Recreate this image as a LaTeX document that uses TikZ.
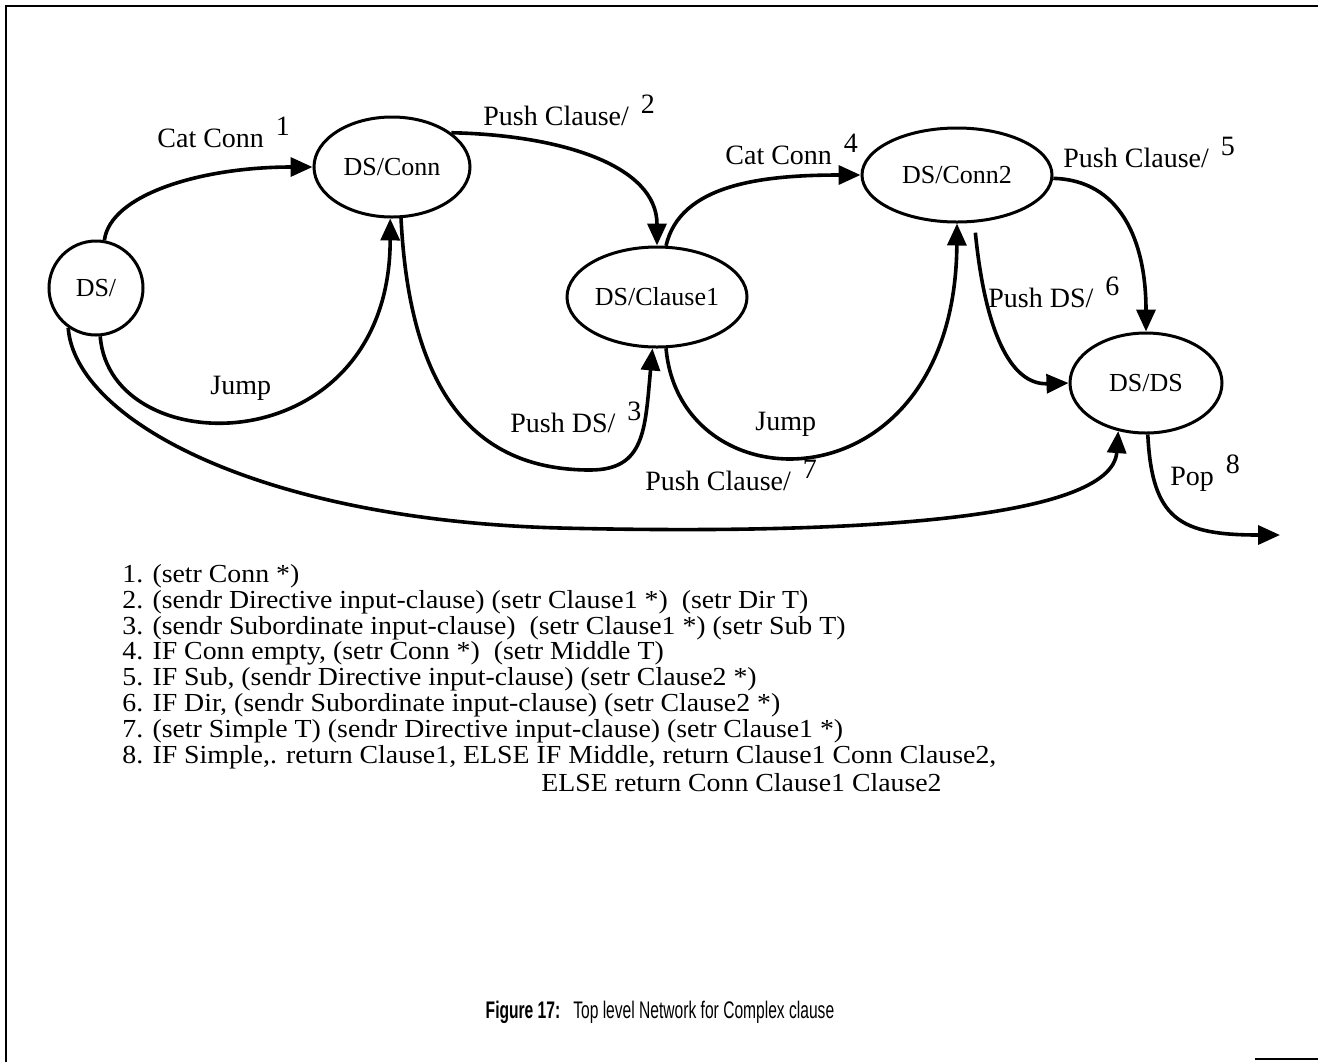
\documentclass[tikz,border=0pt]{standalone}
\usepackage{fontspec}
\setmainfont{Liberation Serif}
\newfontfamily\notefont[FakeStretch=1.07]{Liberation Serif}
\newfontfamily\capfont[FakeStretch=0.65]{Liberation Sans}
\usetikzlibrary{shapes.geometric,arrows.meta}

\newcommand{\arcnum}[1]{\hspace{6pt}\raisebox{6pt}{#1}}

\begin{document}
\begin{tikzpicture}[x=0.5pt,y=-0.5pt,
    netstate/.style={draw, line width=1.5pt, ellipse, inner sep=0pt, font=\fontsize{13}{15}\selectfont},
    trans/.style={line width=1.8pt, -{Triangle[length=11pt,width=9.5pt]}},
    translbl/.style={anchor=base west, inner sep=0pt, font=\fontsize{14}{16}\selectfont},
    notelbl/.style={anchor=west, inner sep=0pt, font=\notefont\fontsize{13}{15}\selectfont}]

    \useasboundingbox (0,0) rectangle (1318,1062);

    % frame
    \draw[line width=1pt] (6,1062) -- (6,6) -- (1318,6);
    \draw[line width=1.2pt] (1255,1059) -- (1318,1059);

    % states
    \node[netstate, circle, minimum size=47pt] (ds) at (96,288) {DS/};
    \node[netstate, minimum width=78pt, minimum height=50pt] (dsconn) at (392,167) {DS/Conn};
    \node[netstate, minimum width=90pt, minimum height=50pt] (dsclause) at (657,297) {DS/Clause1};
    \node[netstate, minimum width=95pt, minimum height=47pt] (dsconn2) at (957,175) {DS/Conn2};
    \node[netstate, minimum width=76pt, minimum height=50pt] (dsds) at (1146,383) {DS/DS};
    \coordinate (popend) at (1280,535);

    % arcs
    \draw[trans] (ds.80) .. controls (110,195) and (200,167) .. (dsconn.west);
    \draw[trans] (dsconn.30) .. controls (560,135) and (657,165) .. (dsclause.north);
    \draw[trans] (dsconn.-80) .. controls (410,400) and (480,470) .. (590,470)
        .. controls (645,470) and (645,430) .. (dsclause.-95);
    \draw[trans] (dsclause.80) .. controls (680,185) and (760,175) .. (dsconn2.west);
    \draw[trans] (dsconn2.-2) .. controls (1120,180) and (1146,240) .. (dsds.north);
    \draw[trans, shorten <=5pt] (dsconn2.-70) .. controls (985,330) and (1010,385) .. (dsds.west);
    \draw[trans] (ds.235) .. controls (75,420) and (260,520) .. (560,528)
        .. controls (850,535) and (1112,520) .. (dsds.-120);
    \draw[trans] (ds.-85) .. controls (110,465) and (390,465) .. (dsconn.-92);
    \draw[trans] (dsclause.-80) .. controls (680,510) and (955,510) .. (dsconn2.-90);
    \draw[trans] (dsds.-88) .. controls (1152,520) and (1180,535) .. (popend);

    % arc labels
    \node[translbl] (lcat1) at (157,147) {Cat Conn\arcnum{1}};
    \node[translbl] (lpush2) at (483,125) {Push Clause/\arcnum{2}};
    \node[translbl] (lpush3) at (510,432) {Push DS/\arcnum{3}};
    \node[translbl] (lcat4) at (725,164) {Cat Conn\arcnum{4}};
    \node[translbl] (lpush5) at (1063,167) {Push Clause/\arcnum{5}};
    \node[translbl] (lpush6) at (988,307) {Push DS/\arcnum{6}};
    \node[translbl] (lpush7) at (645,490) {Push Clause/\arcnum{7}};
    \node[translbl] (ljump1) at (210,394) {Jump};
    \node[translbl] (ljump2) at (755,430) {Jump};
    \node[translbl] (lpop) at (1170,485) {Pop\arcnum{8}};

    % notes
    \foreach \txt [count=\i] in {
        {1. (setr Conn *)},
        {2. (sendr Directive input-clause) (setr Clause1 *)\ \ (setr Dir T)},
        {3. (sendr Subordinate input-clause)\ \ (setr Clause1 *) (setr Sub T)},
        {4. IF Conn empty, (setr Conn *)\ \ (setr Middle T)},
        {5. IF Sub, (sendr Directive input-clause) (setr Clause2 *)},
        {6. IF Dir, (sendr Subordinate input-clause) (setr Clause2 *)},
        {7. (setr Simple T) (sendr Directive input-clause) (setr Clause1 *)},
        {8. IF Simple,. return Clause1, ELSE IF Middle, return Clause1 Conn Clause2,}}
        \node[notelbl] (note\i) at (122,{576+25.9*(\i-1)}) {\txt};
    \node[notelbl] (note9) at (541,783) {ELSE return Conn Clause1 Clause2};

    \node (caption) at (660,1012) {\capfont\fontsize{12}{14}\selectfont\textbf{Figure 17:}\ \ \ Top level Network for Complex clause};

\end{tikzpicture}
\end{document}
